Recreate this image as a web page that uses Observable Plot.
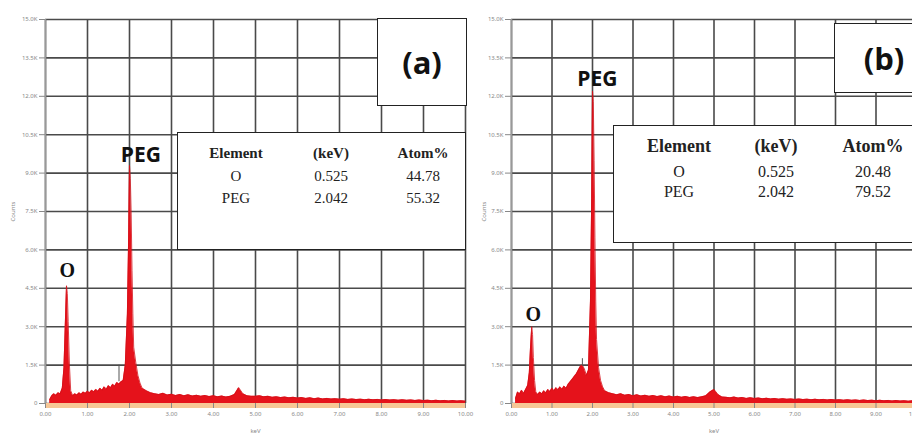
<!DOCTYPE html>
<html>
<head>
<meta charset="utf-8">
<script src="https://cdn.jsdelivr.net/npm/d3@7"></script>
<script src="https://cdn.jsdelivr.net/npm/@observablehq/plot@0.6"></script>
<style>
  html, body { margin: 0; padding: 0; background: #fff; }
  #wrap { position: relative; width: 912px; height: 437px; overflow: hidden; background: #fff; }
  .panel { position: absolute; top: 0; overflow: visible; }
  .box { position: absolute; background: #fff; border: 1.5px solid #222; box-sizing: border-box; }
  .tag { font-family: "Open Sans", "DejaVu Sans", sans-serif; font-weight: 700; display: flex; align-items: center; justify-content: center; color: #111; }
  .cell { position: absolute; transform: translate(-50%, -50%); white-space: nowrap; color: #222; }
</style>
</head>
<body>
<div id="wrap"></div>
<script>
// ---- data ----
const energy = [
  0.10,0.15,0.20,0.25,0.30,0.35,0.40,
  0.44,0.47,0.50,0.52,0.54,0.57,0.60,
  0.65,0.70,0.75,0.80,0.85,0.90,0.95,1.00,1.05,1.10,1.15,1.20,1.25,1.30,1.35,1.40,1.45,1.50,1.55,1.60,1.65,1.70,1.75,1.80,1.85,
  1.90,1.95,1.98,2.00,2.02,2.04,2.06,2.08,2.10,2.15,2.20,2.25,2.30,
  2.4,2.5,2.6,2.7,2.8,2.9,3.0,3.1,3.2,3.3,3.4,3.5,3.6,3.7,3.8,3.9,4.0,4.1,4.2,4.3,4.4,4.5,4.6,4.7,4.8,4.9,
  5.0,5.1,5.2,5.3,5.4,5.5,5.6,5.7,5.8,5.9,6.0,6.1,6.2,6.3,6.4,6.5,6.6,6.7,6.8,6.9,
  7.0,7.1,7.2,7.3,7.4,7.5,7.6,7.7,7.8,7.9,8.0,8.1,8.2,8.3,8.4,8.5,8.6,8.7,8.8,8.9,
  9.0,9.1,9.2,9.3,9.4,9.5,9.6,9.7,9.8,9.9,10.0
];
const countsA = [
  150,300,380,320,420,380,600,
  1400,3000,4600,4300,3200,1500,500,
  300,380,330,420,360,450,400,480,420,520,460,550,480,600,520,650,560,700,620,750,680,820,760,850,900,
  1500,3500,6500,9300,8800,7400,5200,3500,2200,1600,1100,800,600,
  500,420,380,350,400,330,360,310,350,300,340,290,320,280,310,270,300,260,290,250,280,350,620,380,300,280,
  280,300,260,280,240,260,230,250,220,240,210,230,200,220,190,210,180,200,175,190,
  170,185,160,175,155,170,150,165,145,160,140,155,135,150,130,145,125,140,120,135,
  115,130,110,125,105,120,100,115,95,110,90
];
const countsB = [
  200,450,380,520,400,550,700,
  1200,2200,3000,2700,1800,900,450,
  350,450,380,500,420,550,470,600,500,620,540,650,560,680,600,750,850,950,1050,1150,1300,1450,1500,1350,1100,
  1300,4000,8000,12200,11800,9500,6500,4000,2500,1400,900,650,500,
  420,380,340,380,320,350,300,340,290,320,280,310,270,300,260,290,250,280,240,270,235,260,230,260,300,450,
  550,350,250,240,220,250,210,235,200,225,195,215,185,205,180,195,170,190,165,180,
  160,175,155,170,150,165,145,160,140,155,135,150,130,145,125,140,120,135,115,130,
  110,125,105,120,100,115,95,110,90,105,85
];
const yTicks = [0,1500,3000,4500,6000,7500,9000,10500,12000,13500,15000];
const yTickLabels = ["0","1.5K","3.0K","4.5K","6.0K","7.5K","9.0K","10.5K","12.0K","13.5K","15.0K"];
const xTicks = [0,1,2,3,4,5,6,7,8,9,10];
const xTickLabels = ["0.00","1.00","2.00","3.00","4.00","5.00","6.00","7.00","8.00","9.00","10.00"];

const peakNames = ["O", "PEG"];
const peakKeVA = [0.52, 2.27];
const peakCountsA = [5200, 9700];
const peakKeVB = [0.54, 2.12];
const peakCountsB = [3480, 12650];

const markerKeV = [1.75];
const markerLowA = [850], markerHighA = [1500];
const markerLowB = [1450], markerHighB = [1750];

const tableHeaders = ["Element", "(keV)", "Atom%"];
const elements = ["O", "PEG"];
const lineEnergies = ["0.525", "2.042"];
const atomA = ["44.78", "55.32"];
const atomB = ["20.48", "79.52"];

// ---- drawing ----
const yLabel = new Map(yTicks.map((t, i) => [t, yTickLabels[i]]));
const xLabel = new Map(xTicks.map((t, i) => [t, xTickLabels[i]]));

function panel(counts, peakKeV, peakCounts, mLow, mHigh, opt) {
  const spec = energy.map((e, i) => ({e, c: counts[i]}));
  const labels = peakNames.map((n, i) => ({n, e: peakKeV[i], c: peakCounts[i]}));
  const markers = markerKeV.map((e, i) => ({e, lo: mLow[i], hi: mHigh[i]}));
  return Plot.plot({
    width: opt.width, height: 437,
    marginLeft: opt.ml, marginRight: opt.mr, marginTop: 19, marginBottom: 34,
    x: {domain: [0, 10]},
    y: {domain: [0, 15000]},
    style: {background: "transparent", overflow: "visible"},
    marks: [
      Plot.gridX(xTicks, {stroke: "#4a4a4a", strokeOpacity: 1, strokeWidth: 1.6}),
      Plot.gridY(yTicks, {stroke: "#4a4a4a", strokeOpacity: 1, strokeWidth: 1.6}),
      Plot.ruleY([0], {stroke: "#f7c796", strokeWidth: 5, dy: 2}),
      Plot.areaY(spec, {x: "e", y: "c", fill: "#e5121b", curve: "linear"}),
      Plot.lineY(spec, {x: "e", y: "c", stroke: "#d40f18", strokeWidth: 0.8, curve: "linear"}),
      Plot.ruleX(markers, {x: "e", y1: "lo", y2: "hi", stroke: "#555", strokeWidth: 1}),
      Plot.axisY({ticks: yTicks, tickFormat: d => yLabel.get(d), fontSize: 6, tickSize: 6, tickPadding: 2,
        color: "#888", label: "Counts", labelAnchor: "center", labelArrow: "none", labelOffset: opt.lo}),
      Plot.axisX({ticks: xTicks, tickFormat: d => xLabel.get(d), fontSize: 6, tickSize: 5, tickPadding: 3,
        color: "#888", label: "keV", labelAnchor: "center", labelArrow: "none", labelOffset: 29}),
      Plot.ruleX([0], {stroke: "#999", strokeWidth: 1.5}),
      Plot.text(labels.filter(d => d.n === "O"), {x: "e", y: "c", text: "n", fontSize: 20, fontWeight: "bold",
        fontFamily: "Liberation Serif, serif", fill: "#111"}),
      Plot.text(labels.filter(d => d.n === "PEG"), {x: "e", y: "c", text: "n", fontSize: 21, fontWeight: "bold",
        fontFamily: "Open Sans, Liberation Sans, sans-serif", fill: "#111"})
    ]
  });
}

const wrap = document.getElementById("wrap");

const b = panel(countsB, peakKeVB, peakCountsB, markerLowB, markerHighB, {width: 470, ml: 41, mr: 24, lo: 30});
b.classList.add("panel"); b.style.left = "470px";
wrap.appendChild(b);

const a = panel(countsA, peakKeVA, peakCountsA, markerLowA, markerHighA, {width: 480, ml: 45, mr: 15, lo: 35});
a.classList.add("panel"); a.style.left = "0px";
wrap.appendChild(a);

function tag(text, left, top, w, h, fs) {
  const d = document.createElement("div");
  d.className = "box tag";
  Object.assign(d.style, {left: left + "px", top: top + "px", width: w + "px", height: h + "px", fontSize: fs + "px"});
  d.textContent = text;
  wrap.appendChild(d);
}
tag("(a)", 377, 18, 90, 88, 31);
tag("(b)", 834, 23, 100, 70, 31);

function table(left, top, w, h, cols, rowsY, atoms, hfs, fs, hfont) {
  const box = document.createElement("div");
  box.className = "box";
  Object.assign(box.style, {left: left + "px", top: top + "px", width: w + "px", height: h + "px"});
  wrap.appendChild(box);
  const put = (txt, x, y, size, bold, font) => {
    const c = document.createElement("div");
    c.className = "cell";
    Object.assign(c.style, {left: x + "px", top: y + "px", fontSize: size + "px",
      fontWeight: bold ? "700" : "400", fontFamily: font});
    c.textContent = txt;
    box.appendChild(c);
  };
  tableHeaders.forEach((t, i) => put(t, cols[i], rowsY[0], hfs, true, hfont));
  elements.forEach((el, r) => {
    put(el, cols[0], rowsY[r + 1], fs, false, "Liberation Serif, serif");
    put(lineEnergies[r], cols[1], rowsY[r + 1], fs, false, "Liberation Serif, serif");
    put(atoms[r], cols[2], rowsY[r + 1], fs, false, "Liberation Serif, serif");
  });
}
table(177, 132, 289, 118, [58, 153, 245], [20, 43, 65], atomA, 15, 15, "Liberation Serif, serif");
table(613, 125, 320, 118, [65, 162, 259], [20, 46, 66], atomB, 18, 16, "Liberation Serif, serif");
</script>
</body>
</html>
